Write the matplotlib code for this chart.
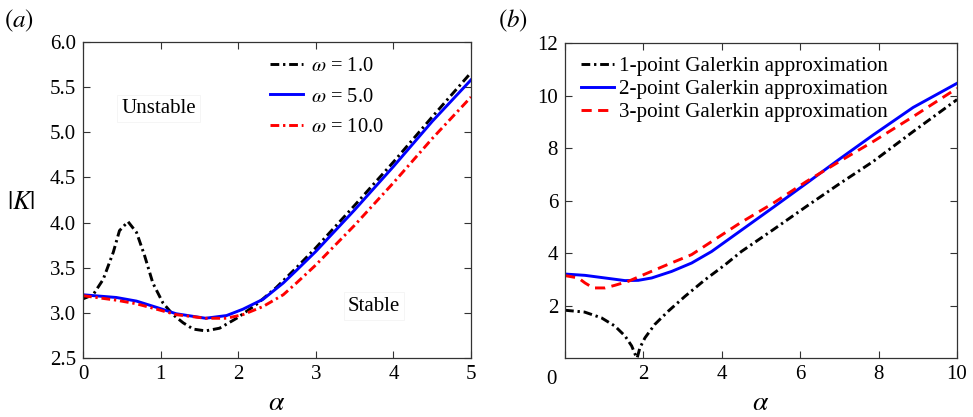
import matplotlib
matplotlib.use('Agg')
import matplotlib.pyplot as plt

plt.rcParams['font.family'] = ['Liberation Serif', 'DejaVu Serif']
plt.rcParams['mathtext.fontset'] = 'stix'

# panel (a): |K| against alpha for three omega
alpha_w1 = [0, 0.13, 0.26, 0.39, 0.47, 0.58, 0.69, 0.795, 0.90, 1.03, 1.16, 1.29, 1.42,
            1.58, 1.76, 1.98, 2.23, 2.49, 2.75, 3.0, 3.5, 4.0, 4.5, 5.0]
k_w1 = [3.155, 3.20, 3.37, 3.67, 3.91, 4.01, 3.89, 3.63, 3.33, 3.11, 2.98, 2.89, 2.82,
        2.80, 2.83, 2.94, 3.09, 3.28, 3.50, 3.72, 4.19, 4.67, 5.17, 5.66]
alpha_w = [0, 0.43, 0.69, 0.95, 1.2, 1.58, 1.85, 2.06, 2.32, 2.58, 2.75, 3.0, 3.5, 4.0, 4.5, 5.0]
k_w5 = [3.20, 3.17, 3.13, 3.06, 2.99, 2.94, 2.97, 3.04, 3.15, 3.33, 3.47, 3.68, 4.14, 4.62, 5.12, 5.58]
k_w10 = [3.19, 3.14, 3.10, 3.04, 2.98, 2.94, 2.94, 2.98, 3.07, 3.20, 3.33, 3.53, 3.97, 4.44, 4.93, 5.39]

# panel (b): Galerkin approximations
alpha_g1 = [0, 0.5, 0.93, 1.27, 1.53, 1.70, 1.80, 1.84, 1.91, 2.04, 2.29, 2.63, 3.06, 3.57,
            4.08, 4.5, 5.31, 6.16, 7.0, 7.86, 8.88, 10]
k_g1 = [1.82, 1.75, 1.53, 1.22, 0.84, 0.46, 0.10, 0.0, 0.39, 0.77, 1.28, 1.78, 2.35, 2.98,
        3.55, 4.06, 4.89, 5.78, 6.64, 7.49, 8.63, 9.85]
alpha_g2 = [0, 0.51, 1.02, 1.53, 1.87, 2.21, 2.72, 3.23, 3.74, 4.46, 5.31, 6.16, 7.0, 7.86, 8.88, 10]
k_g2 = [3.20, 3.15, 3.05, 2.95, 2.96, 3.05, 3.30, 3.62, 4.06, 4.83, 5.74, 6.66, 7.58, 8.50, 9.55, 10.47]
alpha_g3 = [0, 0.34, 0.51, 0.72, 1.02, 1.27, 1.61, 1.95, 2.55, 3.23, 4.46, 5.31, 6.16, 7.0,
            7.86, 8.88, 10]
k_g3 = [3.14, 3.05, 2.86, 2.67, 2.67, 2.77, 2.92, 3.14, 3.52, 3.94, 5.14, 5.90, 6.73, 7.49,
        8.25, 9.20, 10.28]

omega_labels = [r'$\omega$ = 1.0', r'$\omega$ = 5.0', r'$\omega$ = 10.0']
galerkin_labels = ['1-point Galerkin approximation', '2-point Galerkin approximation',
                   '3-point Galerkin approximation']

dashdot = (3, 1.3, 0.8, 1.3)

fig = plt.figure(figsize=(9.73, 4.17), dpi=100)
ax1 = fig.add_axes([0.0853, 0.1415, 0.3988, 0.758])
ax2 = fig.add_axes([0.5807, 0.1415, 0.4029, 0.755])

for ax in (ax1, ax2):
    ax.tick_params(direction='in', top=True, right=True, length=5, width=0.8,
                   labelsize=15, colors='#333333', labelcolor='black', pad=5)
    for s in ax.spines.values():
        s.set_color('#333333')
        s.set_linewidth(0.9)

# (a)
ax1.plot(alpha_w1, k_w1, color='black', lw=2.1, dashes=dashdot, label=omega_labels[0])
ax1.plot(alpha_w, k_w5, color='blue', lw=2.1, label=omega_labels[1])
ax1.plot(alpha_w, k_w10, color='red', lw=2.1, dashes=dashdot, label=omega_labels[2])
ax1.set_xlim(0, 5)
ax1.set_ylim(2.5, 6.0)
ax1.set_xticks([0, 1, 2, 3, 4, 5])
ax1.set_yticks([2.5, 3.0, 3.5, 4.0, 4.5, 5.0, 5.5, 6.0])
ax1.set_yticklabels(['2.5', '3.0', '3.5', '4.0', '4.5', '5.0', '5.5', '6.0'])
ax1.set_xlabel(r'$\alpha$', fontsize=20, labelpad=5)
ax1.set_ylabel(r'$|K|$', fontsize=19, rotation=0)
ax1.yaxis.set_label_coords(-0.16, 0.455)
ax1.legend(loc='upper left', bbox_to_anchor=(0.46, 0.98), frameon=False, fontsize=14.8,
           handlelength=1.6, handletextpad=0.4, labelspacing=0.55, borderaxespad=0)
ax1.text(0.098, 0.775, 'Unstable', transform=ax1.transAxes, fontsize=15,
         bbox=dict(facecolor='white', edgecolor='#f2f2f2', lw=0.5, pad=3))
ax1.text(0.683, 0.15, 'Stable', transform=ax1.transAxes, fontsize=15,
         bbox=dict(facecolor='white', edgecolor='#f2f2f2', lw=0.5, pad=3))
fig.text(0.004, 0.935, r'$(a)$', fontsize=18)

# (b)
ax2.plot(alpha_g1, k_g1, color='black', lw=2.1, dashes=dashdot, label=galerkin_labels[0])
ax2.plot(alpha_g2, k_g2, color='blue', lw=2.1, label=galerkin_labels[1])
ax2.plot(alpha_g3, k_g3, color='red', lw=2.1, dashes=(3.5, 2.2), label=galerkin_labels[2])
ax2.set_xlim(0, 10)
ax2.set_ylim(0, 12)
ax2.set_xticks([0, 2, 4, 6, 8, 10])
ax2.set_xticklabels(['', '2', '4', '6', '8', '10'])
ax2.set_yticks([2, 4, 6, 8, 10, 12])
ax2.set_xlabel(r'$\alpha$', fontsize=20, labelpad=5)
ax2.text(-0.035, -0.038, '0', transform=ax2.transAxes, fontsize=15, ha='center', va='top')
ax2.legend(loc='upper left', bbox_to_anchor=(0.018, 0.985), frameon=False, fontsize=15.2,
           handlelength=1.6, handletextpad=0.2, labelspacing=0.15, borderaxespad=0)
fig.text(0.512, 0.935, r'$(b)$', fontsize=18)

fig.savefig('out.png', dpi=100)
